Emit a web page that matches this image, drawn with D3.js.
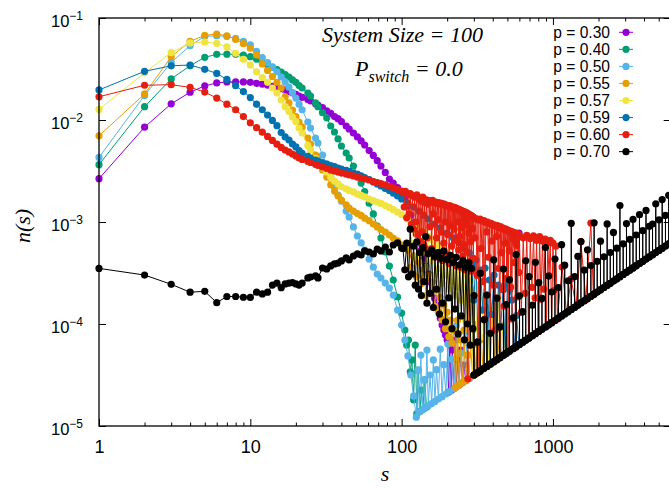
<!DOCTYPE html>
<html><head><meta charset="utf-8">
<script src="https://cdn.jsdelivr.net/npm/d3@7"></script>
<style>html,body{margin:0;padding:0;background:#fff;} svg{display:block;}</style>
</head><body>
<svg id="chart" width="669" height="489"></svg>
<script>
// ---------------- DATA ----------------
const labels = ["p = 0.30","p = 0.40","p = 0.50","p = 0.55","p = 0.57","p = 0.59","p = 0.60","p = 0.70"];
const colors = ["#9400d3","#009e73","#56b4e9","#e69f00","#f0e442","#0072b2","#e51e10","#000000"];
const xTickValues = [1,10,100,1000];
const yTickExponents = [-1,-2,-3,-4,-5];

// shared cluster sizes for the smooth part of every curve
const sMain = [1,2,3,4,5,6,7,8,9,10,11,12,13,14,15,16,17,18,19,20,21,22,24,25,27,28,30,32,34,36,38,40,43,45,48,51,54,57,61,65,69,73,78,83,88,94,100];

const nP30 = [0.00266,0.0085,0.0144,0.0187,0.0216,0.0231,0.0236,0.0237,0.0236,0.0234,0.0229,0.0225,0.0220,0.0214,0.0208,0.0203,0.0197,0.0190,0.0184,0.0178,0.0172,0.0167,0.0159,0.0154,0.0144,0.0140,0.0132,0.0123,0.0116,0.0108,0.0103,0.00967,0.00873,0.00816,0.00746,0.00682,0.00623,0.00569,0.00502,0.00449,0.00399,0.00354,0.00306,0.00264,0.00241,0.00218,0.00193];
const tailS30 = [105,110,115,120,125,130,135,140,145,150,155,160,165,170,175,180,185,190,195,200,204,208,212,216,220,225,230,235,240,246,252,258,265,272,280];
const tailN30 = [0.00176,0.00144,0.00117,9.56e-4,7.63e-4,6.23e-4,5.31e-4,4.44e-4,3.70e-4,3.09e-4,2.58e-4,2.15e-4,1.79e-4,1.53e-4,1.31e-4,1.14e-4,9.77e-5,8.73e-5,7.80e-5,6.97e-5,2.14e-5,6.22e-5,2.23e-5,5.56e-5,2.31e-5,6.97e-5,2.42e-5,4.44e-5,2.52e-5,5.56e-5,2.65e-5,3.96e-5,2.78e-5,4.96e-5,2.94e-5];

const nP40 = [0.00365,0.0135,0.0253,0.034,0.0412,0.044,0.0442,0.044,0.0432,0.0418,0.0395,0.0372,0.0350,0.0330,0.0312,0.0295,0.0279,0.0264,0.0247,0.0234,0.0218,0.0206,0.0184,0.0172,0.0147,0.0135,0.0118,0.0105,0.00873,0.00763,0.00652,0.00556,0.00475,0.00424,0.00354,0.00293,0.00241,0.00199,0.00153,0.00120,9.14e-4,6.97e-4,5.08e-4,3.70e-4,2.70e-4,1.84e-4,1.28e-4];
const tailS40 = [105,108,111,114,117,120,123,126,129,132,135,138,142,146];
const tailN40 = [8.73e-5,6.22e-5,6.97e-5,3.40e-5,4.44e-5,1.80e-5,6.22e-5,1.32e-5,3.54e-5,1.39e-5,2.25e-5,1.45e-5,2.83e-5,1.53e-5];

const nP50 = [0.0043,0.0174,0.0367,0.0536,0.066,0.067,0.066,0.063,0.059,0.0544,0.0470,0.0410,0.0365,0.0330,0.0297,0.0264,0.0236,0.0210,0.0186,0.0164,0.0143,0.0126,0.00956,0.00835,0.00666,0.00595,0.00454,0.00370,0.00283,0.00221,0.00184,0.00160,0.00128,0.00112,8.94e-4,7.29e-4,6.23e-4,5.31e-4,4.34e-4,3.61e-4,3.09e-4,2.82e-4,2.52e-4,2.25e-4,1.92e-4,1.37e-4,9.77e-5];
const tailS50 = [105,110,115,120,125,128,131,134,137,140,143,147,150,154,158,162,166,170,175,180,185,190,196,202,208,215,222,230,238,246,255,265,275];
const tailN50 = [6.97e-5,4.86e-5,3.16e-5,1.97e-5,1.22e-5,3.54e-5,1.38e-5,4.96e-5,1.44e-5,2.83e-5,1.50e-5,5.56e-5,1.58e-5,3.16e-5,1.66e-5,4.44e-5,1.74e-5,3.57e-5,1.84e-5,5.67e-5,1.94e-5,3.99e-5,2.06e-5,6.36e-5,2.18e-5,4.52e-5,2.33e-5,9.66e-5,2.50e-5,5.17e-5,2.68e-5,8.35e-5,2.89e-5];

const nP55 = [0.0070,0.0180,0.0417,0.059,0.0676,0.0697,0.067,0.0617,0.056,0.0506,0.0434,0.0355,0.0306,0.0267,0.0234,0.0206,0.0169,0.0147,0.0125,0.0108,0.00956,0.00854,0.00666,0.00582,0.00454,0.00405,0.00324,0.00276,0.00231,0.00201,0.00180,0.00164,0.00147,0.00137,0.00128,0.00121,0.00116,0.00109,0.00103,9.56e-4,8.94e-4,8.44e-4,7.98e-4,7.46e-4,6.97e-4,6.52e-4,5.95e-4];
const tailS55 = [110,115,120,125,130,135,140,145,150,155,160,165,170,175,180,185,190,195,200,205,210,215,220,228,234,240,246,252,258,265,272,279,286,294,302,310,318,327,336,345,355,365,375,386,397,408,420,432,445,458];
const tailN55 = [5.31e-4,3.6e-4,4.64e-4,2.9e-4,4.05e-4,2.5e-4,3.46e-4,1.9e-4,3.02e-4,2.0e-4,2.58e-4,1.5e-4,2.15e-4,1.3e-4,1.81e-4,1.1e-4,1.53e-4,9.0e-5,1.31e-4,7.5e-5,1.09e-4,6.5e-5,8.73e-5,2.39e-5,1.09e-4,2.52e-5,6.97e-5,2.65e-5,8.73e-5,2.78e-5,4.96e-5,2.93e-5,6.22e-5,3.09e-5,6.34e-5,3.26e-5,1.00e-4,3.43e-5,7.06e-5,3.62e-5,1.49e-4,3.83e-5,7.88e-5,4.05e-5,1.25e-4,4.28e-5,8.82e-5,4.54e-5,9.35e-5,4.81e-5];

const nP57 = [0.0127,0.029,0.0457,0.057,0.058,0.0565,0.052,0.045,0.0394,0.0346,0.0297,0.0261,0.0234,0.0206,0.0184,0.0157,0.0135,0.0121,0.0107,0.00967,0.00835,0.00746,0.00563,0.00508,0.00420,0.00387,0.00342,0.00310,0.00276,0.00252,0.00236,0.00221,0.00211,0.00204,0.00197,0.00188,0.00182,0.00176,0.00168,0.00162,0.00157,0.00152,0.00145,0.00139,0.00132,0.00125,0.00118];
const tailS57 = [110,115,120,126,130,135,140,145,150,155,160,165,170,175,180,185,190,195,200,205,210,215,220,225,230,235,240,248,256,264,272,280,288,296,305,314,323,333,343,353,364,375,386,398,410,422,435,448,462,476,490,505];
const tailN57 = [1.07e-3,6.2e-4,9.56e-4,4.6e-4,8.73e-4,5.0e-4,7.98e-4,3.6e-4,7.29e-4,4.2e-4,6.67e-4,3.0e-4,6.23e-4,3.5e-4,5.82e-4,2.5e-4,5.43e-4,3.0e-4,5.08e-4,2.2e-4,4.64e-4,2.6e-4,4.24e-4,1.9e-4,3.78e-4,2.3e-4,3.38e-4,1.72e-4,3.78e-4,1.09e-4,3.02e-4,6.97e-5,2.70e-4,3.11e-5,2.15e-4,8.73e-5,2.41e-4,3.50e-5,1.72e-4,7.41e-5,1.92e-4,3.94e-5,1.37e-4,1.25e-4,1.53e-4,4.43e-5,1.83e-4,4.70e-5,9.70e-5,5.00e-5,1.54e-4,5.30e-5];

const nP59 = [0.0197,0.030,0.034,0.0346,0.0314,0.0286,0.025,0.0217,0.019,0.0166,0.0143,0.0126,0.0112,0.0099,0.0088,0.00754,0.00682,0.00637,0.00582,0.00544,0.00502,0.00470,0.00439,0.00424,0.00405,0.00396,0.00383,0.00370,0.00358,0.00350,0.00338,0.00331,0.00320,0.00313,0.00302,0.00293,0.00283,0.00273,0.00261,0.00247,0.00236,0.00226,0.00213,0.00204,0.00192,0.00180,0.00168];
const tailS59 = [110,120,130,140,150,165,180,200,220,240,260,280,290,300,310,320,332,344,356,368,380,394,408,422,436,452,468,484,500,518,536,555,575,595];
const tailN59 = [1.53e-3,1.40e-3,1.28e-3,1.17e-3,1.07e-3,9.56e-4,8.73e-4,7.80e-4,6.97e-4,6.23e-4,5.56e-4,4.97e-4,3.78e-4,1.72e-4,4.24e-4,6.72e-5,3.38e-4,1.37e-4,3.54e-4,3.86e-5,2.70e-4,1.24e-4,3.02e-4,4.43e-5,2.41e-4,9.49e-5,2.15e-4,5.08e-5,2.41e-4,2.18e-4,1.72e-4,5.83e-5,1.21e-4,6.25e-5];

const nP60 = [0.0169,0.0219,0.0222,0.0209,0.0188,0.0164,0.0143,0.0126,0.0108,0.0094,0.0084,0.0076,0.0069,0.0063,0.0058,0.00538,0.00508,0.00486,0.00464,0.00444,0.00424,0.00410,0.00392,0.00383,0.00366,0.00358,0.00346,0.00335,0.00324,0.00317,0.00310,0.00302,0.00296,0.00289,0.00283,0.00276,0.00270,0.00264,0.00258,0.00249,0.00244,0.00238,0.00231,0.00223,0.00216,0.00208,0.00201];
const tailS60 = [102,104,106,108,110,112,114,116,118,120,122,124,126,128,130,132,134,136,138,140,142,144,146,148,150,
 152,154,156,158,160,162,164,166,168,170,172,174,176,178,180,182,184,186,188,190,192,194,196,198,200,202,204,206,208,210,212,214,216,218,220,222,224,226,228,230,232,234,236,238,240,242,244,246,248,250,
 252,254,256,258,260,262,264,266,268,270,272,274,276,278,280,282,284,286,288,290,292,294,296,298,300,
 305,310,315,320,325,330,335,340,345,350,355,360,365,370,375,380,385,390,395,400,405,410,415,420,425,430,435,440,445,450,
 455,460,465,470,475,480,485,490,495,500,505,510,515,520,525,530,535,540,545,550,555,560,565,570,575,580,585,590,595,600,
 618,636,654,672,690,708,726,744,762,780,798,816,834,852,870,888,906,924,942,960,980,1000,1020,1045,1070,
 1150,1230,1320,1420,1530,1650,1780,1850];
const tailN60 = [1.95e-3,1.4e-3,2.0e-3,1.1e-3,1.85e-3,1.2e-3,1.9e-3,9.5e-4,1.8e-3,8.5e-4,1.75e-3,1.0e-3,1.85e-3,7.5e-4,1.7e-3,6.5e-4,1.6e-3,8.0e-4,1.75e-3,6.0e-4,1.55e-3,5.5e-4,1.65e-3,7.0e-4,1.5e-3,
 1.62e-3,9.0e-4,1.58e-3,5.5e-4,1.63e-3,1.2e-3,1.55e-3,4.5e-4,1.57e-3,7.0e-4,1.52e-3,1.05e-3,1.55e-3,5.0e-4,1.50e-3,8.0e-4,1.52e-3,4.2e-4,1.47e-3,6.2e-4,1.50e-3,1.0e-3,1.45e-3,4.8e-4,1.46e-3,7.5e-4,1.42e-3,3.9e-4,1.45e-3,9.2e-4,1.40e-3,5.8e-4,1.41e-3,4.0e-4,1.37e-3,8.5e-4,1.39e-3,6.6e-4,1.34e-3,3.7e-4,1.36e-3,1.0e-3,1.31e-3,5.3e-4,1.33e-3,7.2e-4,1.28e-3,3.6e-4,1.30e-3,8.8e-4,
 1.26e-3,4.6e-4,1.27e-3,6.0e-4,1.23e-3,3.4e-4,1.25e-3,9.5e-4,1.20e-3,5.1e-4,1.22e-3,2.9e-5,1.18e-3,7.8e-4,1.19e-3,4.1e-4,1.15e-3,6.4e-4,1.16e-3,3.3e-4,1.12e-3,8.6e-4,1.13e-3,4.4e-4,1.10e-3,
 7.0e-4,1.08e-3,3.0e-4,1.05e-3,3.41e-5,1.07e-3,5.5e-4,1.02e-3,2.6e-4,1.03e-3,1.12e-4,9.9e-4,8.0e-4,1.0e-3,4.5e-4,9.6e-4,4.04e-5,9.7e-4,6.5e-4,9.3e-4,2.4e-4,9.4e-4,8.7e-5,9.1e-4,7.2e-4,9.2e-4,3.5e-4,8.8e-4,4.67e-5,9.0e-4,
 5.0e-4,8.6e-4,2.2e-4,8.7e-4,1.50e-4,8.4e-4,6.2e-4,8.5e-4,2.8e-4,8.2e-4,5.30e-5,8.3e-4,5.2e-4,8.0e-4,2.3e-4,8.1e-4,1.12e-4,7.8e-4,6.8e-4,7.9e-4,4.0e-4,7.7e-4,5.93e-5,7.8e-4,5.9e-4,7.5e-4,1.84e-4,7.6e-4,3.2e-4,7.4e-4,
 1.30e-4,7.0e-4,2.0e-4,7.4e-4,7.25e-5,6.9e-4,2.29e-4,7.3e-4,1.8e-4,6.6e-4,8.4e-5,7.2e-4,1.75e-4,6.5e-4,2.2e-4,6.8e-4,9.5e-5,6.3e-4,2.97e-4,6.6e-4,1.03e-4,6.2e-4,2.14e-4,5.8e-4,1.12e-4,
 3.62e-4,1.29e-4,2.77e-4,1.49e-4,6.43e-4,1.73e-4,9.77e-4,1.94e-4];

const nP70 = [0.000351,0.000302,0.000245,0.000205,0.000209,0.000162,0.000186,0.000186,0.000183,0.000182,0.000205,0.000197,0.000205,0.000241,0.000252,0.000227,0.000247,0.000252,0.000255,0.000247,0.000241,0.000252,0.000283,0.000289,0.000296,0.000283,0.000354,0.000346,0.000371,0.000388,0.000396,0.000415,0.000444,0.000424,0.000464,0.000486,0.000475,0.000520,0.000508,0.000486,0.000543,0.000520,0.000569,0.000508,0.000595,0.000623,0.000556];
const tailS70 = [102,105,108,111,114,117,120,123,126,129,132,135,138,141,144,147,150,154,158,162,166,170,174,178,182,186,190,195,200,205,210,215,220,225,230,236,242,248,254,260,266,272,278,284,290,296,
 300,301,302,315,316,317,330,331,332,350,351,352,365,366,367,385,386,387,405,406,407,425,426,427,445,446,447,470,471,472,490,491,492,515,516,517,545,546,547,570,571,572,600,601,602,630,631,632,660,661,662,695,696,697,730,731,732,765,766,767,805,806,807,845,846,847,890,891,892,935,936,937,980,981,982,
 1030,1031,1032,1085,1086,1087,1140,1141,1142,1195,1196,1197,1260,1261,1262,1320,1321,1322,1390,1391,1392,1460,1461,1462,1530,1531,1532,1610,1611,1612,1690,1691,1692,1780,1781,1782,1870,1871,1872,1960,1961,1962,
 2060,2061,2062,2170,2171,2172,2280,2281,2282,2390,2391,2392,2510,2511,2512,2640,2641,2642,2770,2771,2772,2910,2911,2912,3060,3061,3062,3220,3221,3222,3380,3381,3382,3550,3551,3552,3730,3731,3732,3920,3921,3922,
 4120,4121,4122,4330,4331,4332,4550,4551,4552,4780,4781,4782,5020,5021,5022,5270,5271,5272,5540,5541,5542,5820,5821,5822];
const tailN70 = [5.5e-4,3.4e-4,6.2e-4,2.9e-4,8.5e-4,3.1e-4,5.8e-4,2.4e-4,6.4e-4,2.2e-4,5.0e-4,1.9e-4,5.6e-4,2.6e-4,7.2e-4,1.6e-4,4.9e-4,2.0e-4,5.3e-4,1.45e-4,4.6e-4,2.2e-4,5.0e-4,1.25e-4,4.4e-4,1.6e-4,5.2e-4,1.05e-4,4.3e-4,1.8e-4,4.7e-4,9.0e-5,4.0e-4,1.4e-4,4.5e-4,8.0e-5,3.8e-4,1.2e-4,4.2e-4,7.0e-5,3.6e-4,1.0e-4,4.0e-4,6.2e-5,3.5e-4,9.0e-5,
 3.15e-5,1.90e-4,3.17e-5, 3.31e-5,6.63e-5,3.33e-5, 3.47e-5,3.13e-4,3.49e-5, 3.68e-5,1.10e-4,3.70e-5, 3.83e-5,1.92e-4,3.85e-5, 4.04e-5,8.10e-5,4.06e-5, 4.25e-5,4.26e-4,4.27e-5, 4.46e-5,1.79e-4,4.48e-5, 4.67e-5,9.37e-5,4.69e-5, 4.94e-5,3.46e-4,4.96e-5, 5.15e-5,1.55e-4,5.17e-5, 5.41e-5,2.71e-4,5.43e-5, 5.72e-5,1.15e-4,5.74e-5, 5.99e-5,4.80e-4,6.01e-5, 6.30e-5,1.89e-4,6.32e-5, 6.62e-5,1.32e-4,6.64e-5, 6.93e-5,4.16e-4,6.95e-5, 7.30e-5,2.92e-4,7.32e-5, 7.67e-5,1.53e-4,7.69e-5, 8.03e-5,4.02e-4,8.05e-5, 8.45e-5,2.54e-4,8.47e-5, 8.87e-5,1.78e-4,8.89e-5, 9.35e-5,5.61e-4,9.37e-5, 9.82e-5,2.95e-4,9.84e-5, 1.03e-4,2.06e-4,1.03e-4,
 1.08e-4,4.33e-4,1.08e-4, 1.14e-4,2.28e-4,1.14e-4, 1.20e-4,5.99e-4,1.20e-4, 1.25e-4,3.77e-4,1.26e-4, 1.32e-4,2.65e-4,1.33e-4, 1.39e-4,9.70e-4,1.39e-4, 1.46e-4,2.92e-4,1.46e-4, 1.53e-4,4.60e-4,1.54e-4, 1.61e-4,6.43e-4,1.61e-4, 1.69e-4,3.38e-4,1.69e-4, 1.77e-4,5.33e-4,1.78e-4, 1.87e-4,3.74e-4,1.87e-4, 1.96e-4,9.82e-4,1.97e-4, 2.06e-4,4.12e-4,2.06e-4,
 2.16e-4,6.49e-4,2.17e-4, 2.28e-4,4.56e-4,2.28e-4, 2.39e-4,9.58e-4,2.40e-4, 2.51e-4,5.02e-4,2.51e-4, 2.64e-4,7.91e-4,2.64e-4, 2.77e-4,5.54e-4,2.77e-4, 2.91e-4,1.45e-3,2.91e-4, 3.06e-4,6.11e-4,3.06e-4, 3.21e-4,9.64e-4,3.22e-4, 3.38e-4,6.76e-4,3.38e-4, 3.55e-4,1.06e-3,3.55e-4, 3.73e-4,7.46e-4,3.73e-4, 3.92e-4,1.18e-3,3.92e-4, 4.12e-4,8.23e-4,4.12e-4,
 4.33e-4,1.30e-3,4.33e-4, 4.55e-4,9.09e-4,4.55e-4, 4.78e-4,9.56e-4,4.78e-4, 5.02e-4,1.51e-3,5.02e-4, 5.27e-4,1.05e-3,5.27e-4, 5.53e-4,1.66e-3,5.54e-4, 5.82e-4,1.16e-3,5.82e-4, 6.11e-4,1.83e-3,6.11e-4];

// isolated large-cluster points (drawn as dots only), one list per series
const outlierS = [[597],[547],[612],[],[],[570],[],[]];
const outlierN = [[7.8e-4],[7.46e-4],[7.18e-4],[],[],[6.2e-4],[],[]];

// ---------------- CHART ----------------
const W = 669, H = 489;
const L = 99, R = 670.7, T = 18, B = 426;
const x = d3.scaleLog().domain([1, 6000]).range([L, R]);
const y = d3.scaleLog().domain([1e-5, 1e-1]).range([B, T]);

const svg = d3.select('#chart');
svg.append('rect').attr('width', W).attr('height', H).attr('fill', '#fff');

function build(mainN, tS, tN) {
  const pts = mainN.map((n, i) => [sMain[i], n]);
  tS.forEach((s, i) => pts.push([s, tN[i]]));
  return pts;
}
const allData = [
  build(nP30, tailS30, tailN30),
  build(nP40, tailS40, tailN40),
  build(nP50, tailS50, tailN50),
  build(nP55, tailS55, tailN55),
  build(nP57, tailS57, tailN57),
  build(nP59, tailS59, tailN59),
  build(nP60, tailS60, tailN60),
  build(nP70, tailS70, tailN70)
];

const line = d3.line().x(d => x(d[0])).y(d => y(d[1]));
const plot = svg.append('g');
allData.forEach((pts, k) => {
  const gg = plot.append('g');
  gg.append('path').datum(pts).attr('d', line)
    .attr('fill', 'none').attr('stroke', colors[k]).attr('stroke-width', 1);
  gg.selectAll('circle').data(pts).enter().append('circle')
    .attr('cx', d => x(d[0])).attr('cy', d => y(d[1])).attr('r', 3.6)
    .attr('fill', colors[k]);
  const extra = outlierS[k].map((s, i) => [s, outlierN[k][i]]);
  gg.selectAll('circle.o').data(extra).enter().append('circle').attr('class','o')
    .attr('cx', d => x(d[0])).attr('cy', d => y(d[1])).attr('r', 3.6)
    .attr('fill', colors[k]);
});

// ---------------- AXES ----------------
const minorX = [];
[1, 10, 100, 1000].forEach(d => { for (let m = 2; m <= 9; m++) { const v = d * m; if (v < 6000) minorX.push(v); } });
const yTicks = yTickExponents.map(e => Math.pow(10, e));

function strip(g) { g.select('.domain').remove(); g.selectAll('line').attr('stroke', '#000').attr('stroke-width', 1); }

svg.append('g').attr('transform', `translate(0,${B})`)
  .call(d3.axisBottom(x).tickValues(xTickValues).tickSize(-7).tickFormat(d3.format('d')))
  .call(strip)
  .call(g => g.selectAll('text').attr('y', 27).attr('dy', 0)
    .attr('font-size', 18).attr('font-family', 'Liberation Sans, Arial, sans-serif').attr('fill', '#000'));
svg.append('g').attr('transform', `translate(0,${B})`)
  .call(d3.axisBottom(x).tickValues(minorX).tickSize(-3.5).tickFormat(''))
  .call(strip);
svg.append('g').attr('transform', `translate(0,${T})`)
  .call(d3.axisTop(x).tickValues(xTickValues).tickSize(-7).tickFormat(''))
  .call(strip);
svg.append('g').attr('transform', `translate(0,${T})`)
  .call(d3.axisTop(x).tickValues(minorX).tickSize(-3.5).tickFormat(''))
  .call(strip);
svg.append('g').attr('transform', `translate(${R},0)`)
  .call(d3.axisRight(y).tickValues(yTicks).tickSize(-7).tickFormat(''))
  .call(strip);
const yAx = svg.append('g').attr('transform', `translate(${L},0)`)
  .call(d3.axisLeft(y).tickValues(yTicks).tickSize(-7).tickFormat(''))
  .call(strip);
yAx.selectAll('.tick').each(function (d) {
  const t = d3.select(this).select('text');
  t.attr('x', -16).attr('y', 8.5).attr('dy', 0).attr('text-anchor', 'end')
    .attr('font-family', 'Liberation Sans, Arial, sans-serif').attr('fill', '#000').attr('font-size', 16.5);
  t.text(null);
  t.append('tspan').text('10');
  t.append('tspan').attr('dy', -7).attr('font-size', 12).text('\u2212' + Math.round(-Math.log10(d)));
});

// border
svg.append('rect').attr('x', L).attr('y', T).attr('width', R - L).attr('height', B - T)
  .attr('fill', 'none').attr('stroke', '#000').attr('stroke-width', 1.3);

// axis labels
const serif = 'Liberation Serif, Times New Roman, serif';
svg.append('text').attr('transform', 'translate(30,226) rotate(-90)').attr('text-anchor', 'middle')
  .attr('font-family', serif).attr('font-style', 'italic').attr('font-size', 22).text('n(s)');
svg.append('text').attr('x', 385).attr('y', 481).attr('text-anchor', 'middle')
  .attr('font-family', serif).attr('font-style', 'italic').attr('font-size', 22).text('s');

// annotations
svg.append('text').attr('x', 402.5).attr('y', 41.5).attr('text-anchor', 'middle')
  .attr('font-family', serif).attr('font-style', 'italic').attr('font-size', 22).text('System Size = 100');
const ann = svg.append('text').attr('x', 355).attr('y', 76)
  .attr('font-family', serif).attr('font-style', 'italic').attr('font-size', 22);
ann.append('tspan').text('P');
ann.append('tspan').attr('dy', 6).attr('font-size', 16).text('switch');
ann.append('tspan').attr('dy', -6).text(' = 0.0');

// legend
const leg = svg.append('g');
labels.forEach((lab, i) => {
  const yy = 32.3 + 17.05 * i;
  leg.append('text').attr('x', 610).attr('y', yy + 5.5).attr('text-anchor', 'end')
    .attr('font-family', 'Liberation Sans, Arial, sans-serif').attr('font-size', 15.6).text(lab);
  leg.append('line').attr('x1', 619).attr('x2', 633).attr('y1', yy).attr('y2', yy)
    .attr('stroke', colors[i]).attr('stroke-width', 1);
  leg.append('circle').attr('cx', 626).attr('cy', yy).attr('r', 3.6).attr('fill', colors[i]);
});
</script>
</body></html>
